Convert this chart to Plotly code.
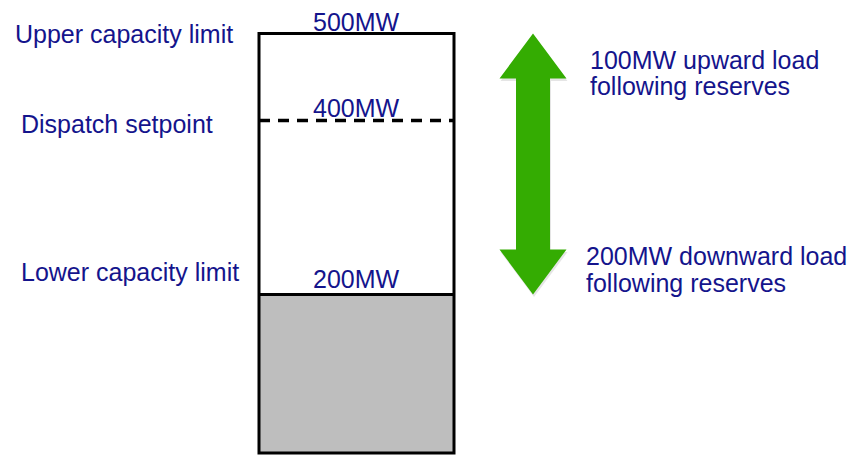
import plotly.graph_objects as go

# ---- data (MW) ----
level_names = ["Upper capacity limit", "Dispatch setpoint", "Lower capacity limit"]
level_values = [500, 400, 200]
level_labels = ["500MW", "400MW", "200MW"]
reserve_texts = [["100MW upward load", "following reserves"],
                 ["200MW downward load", "following reserves"]]

upper, setpoint, lower = level_values

# ---- layout geometry ----
W, H = 850, 455
scale = 0.87                      # px per MW
ymax = upper + 33.5 / scale
ymin = ymax - H / scale

def px2mw(p):
    return ymax - p / scale

box_x0, box_x1 = 259, 454
box_bottom_px = 453
navy = "#14148C"
green = "#34AC02"
font = dict(family="Liberation Sans, Arial, sans-serif", size=25, color=navy)

fig = go.Figure()

shapes = []
# gray region below lower limit
shapes.append(dict(type="rect", xref="x", yref="y", x0=box_x0, x1=box_x1,
                   y0=px2mw(box_bottom_px), y1=lower, fillcolor="#BEBEBE",
                   line=dict(width=0), layer="below"))
# lower limit line
shapes.append(dict(type="line", xref="x", yref="y", x0=box_x0, x1=box_x1,
                   y0=lower, y1=lower, line=dict(color="black", width=3)))
# dispatch setpoint dashed line
shapes.append(dict(type="line", xref="x", yref="y", x0=box_x0, x1=box_x1,
                   y0=setpoint, y1=setpoint,
                   line=dict(color="black", width=3.5, dash="11px,8px")))
# outer box
shapes.append(dict(type="rect", xref="x", yref="y", x0=box_x0, x1=box_x1,
                   y0=px2mw(box_bottom_px), y1=upper, fillcolor="rgba(0,0,0,0)",
                   line=dict(color="black", width=3)))

# double arrow from lower to upper
cx = 533
sw, hw = 17, 33.5
hl = 45 / scale
top, bot = upper, lower
pts = [(cx, top), (cx + hw, top - hl), (cx + sw, top - hl), (cx + sw, bot + hl),
       (cx + hw, bot + hl), (cx, bot), (cx - hw, bot + hl), (cx - sw, bot + hl),
       (cx - sw, top - hl), (cx - hw, top - hl)]

def path(points, dx=0, dy=0):
    return "M " + " L ".join(f"{x+dx},{y+dy}" for x, y in points) + " Z"

shapes.append(dict(type="path", xref="x", yref="y", path=path(pts, 1, -2.5 / scale),
                   fillcolor="rgba(0,0,0,0.10)", line=dict(width=0)))
shapes.append(dict(type="path", xref="x", yref="y", path=path(pts),
                   fillcolor=green, line=dict(width=0)))

annotations = []
left_x = [13, 19, 19]
left_shift = [0, -3, 22.5]
label_shift = [11.5, 13, 16]
for name, val, lab, lx, ls, lbs in zip(level_names, level_values, level_labels,
                                       left_x, left_shift, label_shift):
    annotations.append(dict(x=lx, y=val, xref="x", yref="y", text=name,
                            showarrow=False, xanchor="left", yanchor="middle",
                            yshift=ls, font=font))
    annotations.append(dict(x=356, y=val, xref="x", yref="y", text=lab,
                            showarrow=False, xanchor="center", yanchor="middle",
                            yshift=lbs, font=font))

right_pos = [(588, [60, 86]), (584, [255.5, 282.5])]
for lines, (rx, ys) in zip(reserve_texts, right_pos):
    for t, yp in zip(lines, ys):
        annotations.append(dict(x=rx, y=px2mw(yp), xref="x", yref="y", text=t,
                                showarrow=False, xanchor="left", yanchor="middle",
                                font=font))

fig.update_layout(
    width=W, height=H,
    margin=dict(l=0, r=0, t=0, b=0),
    paper_bgcolor="white", plot_bgcolor="white",
    shapes=shapes, annotations=annotations,
    showlegend=False,
    xaxis=dict(range=[0, W], visible=False, fixedrange=True),
    yaxis=dict(range=[ymin, ymax], visible=False, fixedrange=True),
)

fig.write_html("out.html", config={"displayModeBar": False},
               post_script="document.body.style.margin='0';document.body.style.overflow='hidden';")
